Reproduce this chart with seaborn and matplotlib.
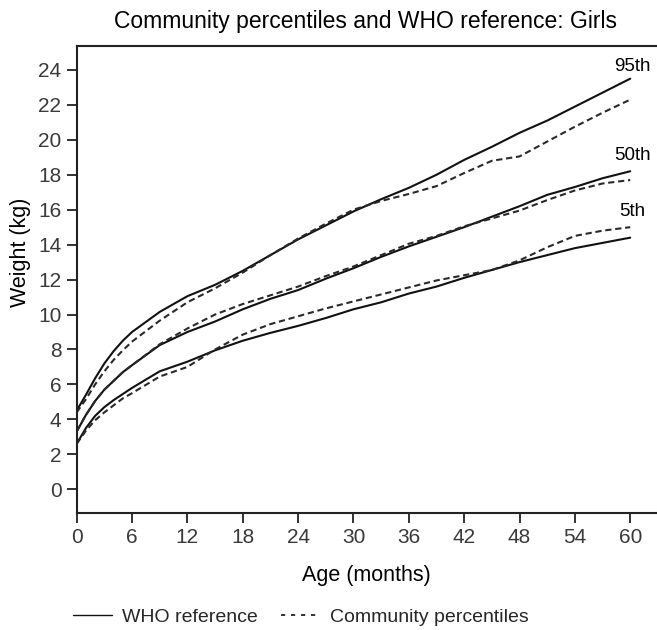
import numpy as np
import pandas as pd
import matplotlib
matplotlib.use("Agg")
import matplotlib.pyplot as plt
import seaborn as sns
from matplotlib.lines import Line2D

# ---- data ----
months = [0, 1, 2, 3, 4, 5, 6, 9, 12, 15, 18, 21, 24, 27, 30, 33, 36, 39, 42, 45, 48, 51, 54, 57, 60]

who_p95 = [4.5, 5.4, 6.35, 7.2, 7.9, 8.5, 9.0, 10.15, 11.05, 11.7, 12.5, 13.4, 14.3, 15.1, 15.9, 16.6,
           17.25, 18.0, 18.85, 19.6, 20.4, 21.1, 21.9, 22.7, 23.5]
comm_p95 = [4.4, 5.15, 6.0, 6.75, 7.4, 7.95, 8.45, 9.65, 10.7, 11.5, 12.4, 13.4, 14.35, 15.2, 16.0, 16.5,
            16.9, 17.35, 18.1, 18.8, 19.05, 19.9, 20.75, 21.55, 22.3]

who_p50 = [3.3, 4.25, 5.05, 5.7, 6.2, 6.7, 7.1, 8.25, 9.0, 9.6, 10.3, 10.9, 11.4, 12.05, 12.65, 13.3,
           13.9, 14.45, 15.0, 15.6, 16.2, 16.85, 17.3, 17.8, 18.2]
comm_p50 = [3.3, 4.25, 5.05, 5.7, 6.2, 6.7, 7.1, 8.3, 9.2, 10.0, 10.6, 11.1, 11.6, 12.2, 12.75, 13.4,
            14.05, 14.5, 15.05, 15.5, 15.95, 16.55, 17.1, 17.5, 17.7]

who_p5 = [2.6, 3.5, 4.2, 4.7, 5.1, 5.45, 5.8, 6.75, 7.3, 7.95, 8.5, 8.95, 9.35, 9.8, 10.3, 10.7,
          11.2, 11.6, 12.1, 12.55, 13.0, 13.4, 13.8, 14.1, 14.4]
comm_p5 = [2.6, 3.35, 3.95, 4.4, 4.8, 5.2, 5.5, 6.45, 7.0, 8.0, 8.85, 9.45, 9.9, 10.35, 10.75, 11.15,
           11.55, 11.95, 12.25, 12.55, 13.1, 13.85, 14.5, 14.8, 15.0]

percentile_labels = ["95th", "50th", "5th"]
source_labels = ["WHO reference", "Community percentiles"]

x_ticks = list(range(0, 61, 6))
y_ticks = list(range(0, 25, 2))

# ---- build long table ----
series = {
    ("95th", "WHO reference"): who_p95,
    ("95th", "Community percentiles"): comm_p95,
    ("50th", "WHO reference"): who_p50,
    ("50th", "Community percentiles"): comm_p50,
    ("5th", "WHO reference"): who_p5,
    ("5th", "Community percentiles"): comm_p5,
}
rows = []
for (pct, src), vals in series.items():
    for m, v in zip(months, vals):
        rows.append({"month": m, "weight": v, "percentile": pct, "source": src})
df = pd.DataFrame(rows)

# ---- style ----
sns.set_theme(style="ticks")
plt.rcParams["font.family"] = ["Liberation Sans", "DejaVu Sans"]

fig = plt.figure(figsize=(6.57, 6.3), dpi=100)
ax = fig.add_axes([0.1167, 0.1857, 0.8833, 0.7413])

for pct in percentile_labels:
    sub = df[(df.percentile == pct) & (df.source == "WHO reference")]
    sns.lineplot(data=sub, x="month", y="weight", ax=ax, color="#111111",
                 linewidth=1.5, estimator=None, sort=True)
    sub = df[(df.percentile == pct) & (df.source == "Community percentiles")]
    sns.lineplot(data=sub, x="month", y="weight", ax=ax, color="#2a2a2a",
                 linewidth=1.5, dashes=False, estimator=None, sort=True,
                 linestyle=(0, (3.0, 1.8)))

# end labels
offsets = {"95th": 9, "50th": 11, "5th": 11}
for pct in percentile_labels:
    sub = df[df.percentile == pct]
    end = sub[sub.month == sub.month.max()]
    ax.annotate(pct, xy=(end.month.iloc[0] + 0.2, end.weight.max()),
                xytext=(0, offsets[pct]), textcoords="offset points",
                ha="center", va="center", fontsize=13.5, color="black")

ax.set_xlim(0, 62.9)
ax.set_ylim(-1.36, 25.37)
ax.set_xticks(x_ticks)
ax.set_yticks(y_ticks)
ax.tick_params(axis="both", direction="out", length=7, width=1.3,
               labelsize=15, colors="#222222", labelcolor="#3a3a3a", pad=4)

for side in ["left", "bottom", "top"]:
    ax.spines[side].set_linewidth(1.5)
    ax.spines[side].set_color("#222222")
ax.spines["right"].set_visible(False)

ax.set_xlabel("Age (months)", fontsize=15.5, color="black")
ax.set_ylabel("Weight (kg)", fontsize=15.5, color="black")
ax.xaxis.set_label_coords(0.4985, -0.112)
ax.yaxis.set_label_coords(-0.079, 0.559)

fig.text(0.556, 0.966, "Community percentiles and WHO reference: Girls",
         ha="center", va="center", fontsize=16.5, color="black")

handles = [Line2D([0], [0], color="#111111", lw=1.0),
           Line2D([0], [0], color="#111111", lw=1.2, linestyle=(0, (2.5, 3.5)))]
fig.legend(handles, source_labels, loc="center left", bbox_to_anchor=(0.085, 0.021),
           ncol=2, frameon=False, fontsize=14, handlelength=2.0,
           handletextpad=0.5, columnspacing=1.2)

fig.savefig("out.png", dpi=100, facecolor="white")
